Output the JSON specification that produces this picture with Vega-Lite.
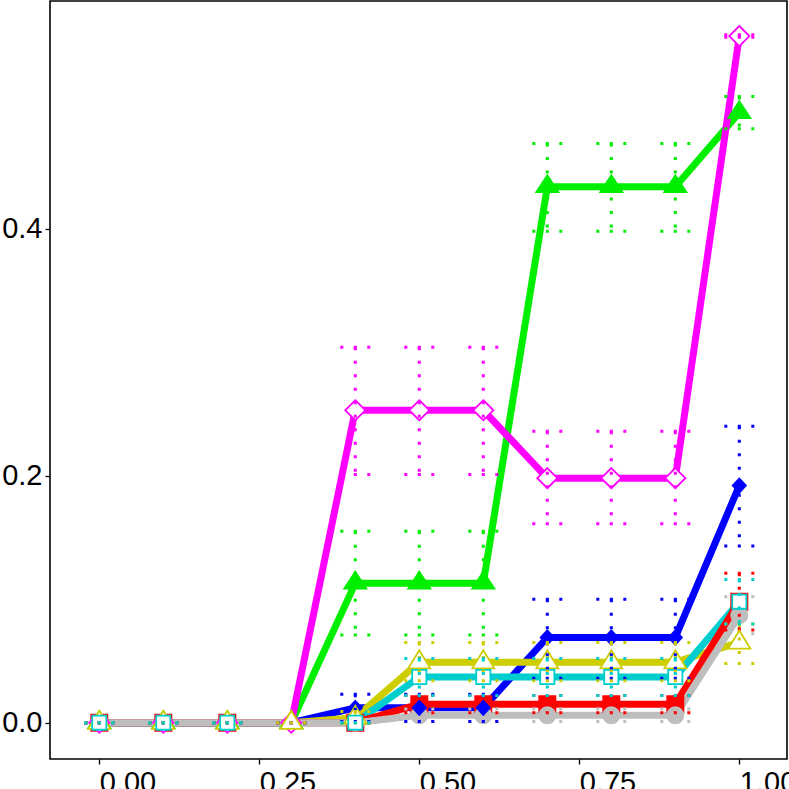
{
  "$schema": "https://vega.github.io/schema/vega-lite/v6.json",
  "width": 737,
  "height": 758,
  "autosize": "none",
  "padding": {"left": 50, "top": 1, "right": 2, "bottom": 30},
  "config": {
    "view": {"stroke": "black", "strokeWidth": 1.6},
    "axis": {
      "grid": false,
      "domain": false,
      "labelFont": "Liberation Sans",
      "labelFontSize": 29,
      "labelColor": "black",
      "tickColor": "black",
      "tickSize": 5,
      "tickWidth": 1.3,
      "labelFlush": false,
      "labelOverlap": false,
      "labelBound": false
    }
  },
  "data": {
    "values": [
      {"series": "blue", "x": 0.0, "y": 0, "lo": 0, "hi": 0},
      {"series": "blue", "x": 0.1, "y": 0, "lo": 0, "hi": 0},
      {"series": "blue", "x": 0.2, "y": 0, "lo": 0, "hi": 0},
      {"series": "blue", "x": 0.3, "y": 0, "lo": 0, "hi": 0},
      {"series": "blue", "x": 0.4, "y": 0.012, "lo": 0.001, "hi": 0.023},
      {"series": "blue", "x": 0.5, "y": 0.012, "lo": 0.001, "hi": 0.023},
      {"series": "blue", "x": 0.6, "y": 0.012, "lo": 0.001, "hi": 0.023},
      {"series": "blue", "x": 0.7, "y": 0.069, "lo": 0.036, "hi": 0.1},
      {"series": "blue", "x": 0.8, "y": 0.069, "lo": 0.036, "hi": 0.1},
      {"series": "blue", "x": 0.9, "y": 0.069, "lo": 0.036, "hi": 0.1},
      {"series": "blue", "x": 1.0, "y": 0.192, "lo": 0.143, "hi": 0.24},

      {"series": "green", "x": 0.0, "y": 0, "lo": 0, "hi": 0},
      {"series": "green", "x": 0.1, "y": 0, "lo": 0, "hi": 0},
      {"series": "green", "x": 0.2, "y": 0, "lo": 0, "hi": 0},
      {"series": "green", "x": 0.3, "y": 0, "lo": 0, "hi": 0},
      {"series": "green", "x": 0.4, "y": 0.113, "lo": 0.071, "hi": 0.155},
      {"series": "green", "x": 0.5, "y": 0.113, "lo": 0.071, "hi": 0.155},
      {"series": "green", "x": 0.6, "y": 0.113, "lo": 0.071, "hi": 0.155},
      {"series": "green", "x": 0.7, "y": 0.434, "lo": 0.398, "hi": 0.469},
      {"series": "green", "x": 0.8, "y": 0.434, "lo": 0.398, "hi": 0.469},
      {"series": "green", "x": 0.9, "y": 0.434, "lo": 0.398, "hi": 0.469},
      {"series": "green", "x": 1.0, "y": 0.494, "lo": 0.481, "hi": 0.507},

      {"series": "magenta", "x": 0.0, "y": 0, "lo": 0, "hi": 0},
      {"series": "magenta", "x": 0.1, "y": 0, "lo": 0, "hi": 0},
      {"series": "magenta", "x": 0.2, "y": 0, "lo": 0, "hi": 0},
      {"series": "magenta", "x": 0.3, "y": 0, "lo": 0, "hi": 0},
      {"series": "magenta", "x": 0.4, "y": 0.253, "lo": 0.201, "hi": 0.304},
      {"series": "magenta", "x": 0.5, "y": 0.253, "lo": 0.201, "hi": 0.304},
      {"series": "magenta", "x": 0.6, "y": 0.253, "lo": 0.201, "hi": 0.304},
      {"series": "magenta", "x": 0.7, "y": 0.198, "lo": 0.161, "hi": 0.236},
      {"series": "magenta", "x": 0.8, "y": 0.198, "lo": 0.161, "hi": 0.236},
      {"series": "magenta", "x": 0.9, "y": 0.198, "lo": 0.161, "hi": 0.236},
      {"series": "magenta", "x": 1.0, "y": 0.556, "lo": 0.555, "hi": 0.557},

      {"series": "yellow", "x": 0.0, "y": 0, "lo": 0, "hi": 0},
      {"series": "yellow", "x": 0.1, "y": 0, "lo": 0, "hi": 0},
      {"series": "yellow", "x": 0.2, "y": 0, "lo": 0, "hi": 0},
      {"series": "yellow", "x": 0.3, "y": 0, "lo": 0, "hi": 0},
      {"series": "yellow", "x": 0.4, "y": 0.004, "lo": 0, "hi": 0.009},
      {"series": "yellow", "x": 0.5, "y": 0.049, "lo": 0.034, "hi": 0.065},
      {"series": "yellow", "x": 0.6, "y": 0.049, "lo": 0.034, "hi": 0.065},
      {"series": "yellow", "x": 0.7, "y": 0.049, "lo": 0.034, "hi": 0.065},
      {"series": "yellow", "x": 0.8, "y": 0.049, "lo": 0.034, "hi": 0.065},
      {"series": "yellow", "x": 0.9, "y": 0.049, "lo": 0.034, "hi": 0.065},
      {"series": "yellow", "x": 1.0, "y": 0.065, "lo": 0.048, "hi": 0.08},

      {"series": "cyan", "x": 0.0, "y": 0, "lo": 0, "hi": 0},
      {"series": "cyan", "x": 0.1, "y": 0, "lo": 0, "hi": 0},
      {"series": "cyan", "x": 0.2, "y": 0, "lo": 0, "hi": 0},
      {"series": "cyan", "x": 0.4, "y": 0, "lo": 0, "hi": 0},
      {"series": "cyan", "x": 0.5, "y": 0.037, "lo": 0.022, "hi": 0.052},
      {"series": "cyan", "x": 0.6, "y": 0.037, "lo": 0.022, "hi": 0.052},
      {"series": "cyan", "x": 0.7, "y": 0.037, "lo": 0.022, "hi": 0.052},
      {"series": "cyan", "x": 0.8, "y": 0.037, "lo": 0.022, "hi": 0.052},
      {"series": "cyan", "x": 0.9, "y": 0.037, "lo": 0.022, "hi": 0.052},
      {"series": "cyan", "x": 1.0, "y": 0.098, "lo": 0.08, "hi": 0.116},

      {"series": "red", "x": 0.0, "y": 0, "lo": 0, "hi": 0},
      {"series": "red", "x": 0.1, "y": 0, "lo": 0, "hi": 0},
      {"series": "red", "x": 0.2, "y": 0, "lo": 0, "hi": 0},
      {"series": "red", "x": 0.4, "y": 0, "lo": 0, "hi": 0},
      {"series": "red", "x": 0.5, "y": 0.015, "lo": 0.008, "hi": 0.022},
      {"series": "red", "x": 0.6, "y": 0.015, "lo": 0.008, "hi": 0.022},
      {"series": "red", "x": 0.7, "y": 0.015, "lo": 0.008, "hi": 0.022},
      {"series": "red", "x": 0.8, "y": 0.015, "lo": 0.008, "hi": 0.022},
      {"series": "red", "x": 0.9, "y": 0.015, "lo": 0.008, "hi": 0.022},
      {"series": "red", "x": 1.0, "y": 0.098, "lo": 0.075, "hi": 0.121},

      {"series": "gray", "x": 0.0, "y": 0, "lo": 0, "hi": 0},
      {"series": "gray", "x": 0.1, "y": 0, "lo": 0, "hi": 0},
      {"series": "gray", "x": 0.2, "y": 0, "lo": 0, "hi": 0},
      {"series": "gray", "x": 0.4, "y": 0, "lo": 0, "hi": 0},
      {"series": "gray", "x": 0.5, "y": 0.006, "lo": 0.001, "hi": 0.011},
      {"series": "gray", "x": 0.6, "y": 0.006, "lo": 0.001, "hi": 0.011},
      {"series": "gray", "x": 0.7, "y": 0.006, "lo": 0.001, "hi": 0.011},
      {"series": "gray", "x": 0.8, "y": 0.006, "lo": 0.001, "hi": 0.011},
      {"series": "gray", "x": 0.9, "y": 0.006, "lo": 0.001, "hi": 0.011},
      {"series": "gray", "x": 1.0, "y": 0.087, "lo": 0.072, "hi": 0.102}
    ]
  },
  "encoding": {
    "x": {
      "field": "x",
      "type": "quantitative",
      "title": null,
      "scale": {"domain": [-0.077, 1.0745], "nice": false, "zero": false},
      "axis": {"values": [0, 0.25, 0.5, 0.75, 1], "format": ".2f", "labelAlign": "left", "labelPadding": 4}
    },
    "y": {
      "field": "y",
      "type": "quantitative",
      "title": null,
      "scale": {"domain": [-0.0294, 0.5844], "nice": false, "zero": false},
      "axis": {"values": [0, 0.2, 0.4], "format": ".1f", "labelPadding": 3}
    },
    "stroke": {
      "field": "series",
      "type": "nominal",
      "legend": null,
      "scale": {
        "domain": ["blue", "green", "magenta", "yellow", "cyan", "red", "gray"],
        "range": ["#0000FF", "#00EE00", "#FF00FF", "#CDCD00", "#00CDCD", "#FF0000", "#BEBEBE"]
      }
    }
  },
  "layer": [
    {
      "mark": {"type": "line", "strokeWidth": 7, "strokeJoin": "round", "strokeCap": "butt"}
    },
    {
      "transform": [{"filter": {"field": "series", "oneOf": ["red", "gray"]}}],
      "layer": [
        {
          "mark": {"type": "point", "size": 576, "strokeWidth": 1.8, "opacity": 1},
          "encoding": {
            "fill": {
              "field": "series",
              "type": "nominal",
              "legend": null,
              "scale": {
                "domain": ["blue", "green", "magenta", "yellow", "cyan", "red", "gray"],
                "range": ["#0000FF", "#00EE00", "white", "white", "white", "#FF0000", "#BEBEBE"]
              }
            },
            "shape": {
              "field": "series",
              "type": "nominal",
              "legend": null,
              "scale": {
                "domain": ["blue", "green", "magenta", "yellow", "cyan", "red", "gray"],
                "range": [
                  "M0,-0.59L0.55,0L0,0.59L-0.55,0Z",
                  "M0,-0.95L0.92,0.45L-0.92,0.45Z",
                  "M0,-0.84L0.84,0L0,0.84L-0.84,0Z",
                  "M0,-1L0.92,0.51L-0.92,0.51Z",
                  "M-0.59,-0.59H0.59V0.59H-0.59Z",
                  "M-0.675,-0.675H0.675V0.675H-0.675Z",
                  "M-0.675,0A0.675,0.675,0,1,0,0.675,0A0.675,0.675,0,1,0,-0.675,0Z"
                ]
              }
            }
          }
        },
        {
          "mark": {"type": "rule", "strokeWidth": 3, "strokeDash": [3, 10.5]},
          "encoding": {
            "y": {"field": "hi", "type": "quantitative", "title": null},
            "y2": {"field": "lo"}
          }
        },
        {
          "mark": {"type": "rule", "strokeWidth": 3, "strokeDash": [3, 10.5], "xOffset": -15, "x2Offset": 15},
          "encoding": {
            "x2": {"field": "x"},
            "y": {"field": "hi", "type": "quantitative", "title": null}
          }
        },
        {
          "mark": {"type": "rule", "strokeWidth": 3, "strokeDash": [3, 10.5], "xOffset": -15, "x2Offset": 15},
          "encoding": {
            "x2": {"field": "x"},
            "y": {"field": "lo", "type": "quantitative", "title": null}
          }
        }
      ]
    },
    {
      "transform": [{"filter": {"field": "series", "oneOf": ["blue", "green", "magenta", "yellow", "cyan"]}}],
      "layer": [
        {
          "mark": {"type": "point", "size": 576, "strokeWidth": 1.8, "opacity": 1},
          "encoding": {
            "fill": {
              "field": "series",
              "type": "nominal",
              "legend": null,
              "scale": {
                "domain": ["blue", "green", "magenta", "yellow", "cyan", "red", "gray"],
                "range": ["#0000FF", "#00EE00", "white", "white", "white", "#FF0000", "#BEBEBE"]
              }
            },
            "shape": {
              "field": "series",
              "type": "nominal",
              "legend": null,
              "scale": {
                "domain": ["blue", "green", "magenta", "yellow", "cyan", "red", "gray"],
                "range": [
                  "M0,-0.59L0.55,0L0,0.59L-0.55,0Z",
                  "M0,-0.95L0.92,0.45L-0.92,0.45Z",
                  "M0,-0.84L0.84,0L0,0.84L-0.84,0Z",
                  "M0,-1L0.92,0.51L-0.92,0.51Z",
                  "M-0.59,-0.59H0.59V0.59H-0.59Z",
                  "M-0.675,-0.675H0.675V0.675H-0.675Z",
                  "M-0.675,0A0.675,0.675,0,1,0,0.675,0A0.675,0.675,0,1,0,-0.675,0Z"
                ]
              }
            }
          }
        },
        {
          "mark": {"type": "rule", "strokeWidth": 3, "strokeDash": [3, 10.5]},
          "encoding": {
            "y": {"field": "hi", "type": "quantitative", "title": null},
            "y2": {"field": "lo"}
          }
        },
        {
          "mark": {"type": "rule", "strokeWidth": 3, "strokeDash": [3, 10.5], "xOffset": -15, "x2Offset": 15},
          "encoding": {
            "x2": {"field": "x"},
            "y": {"field": "hi", "type": "quantitative", "title": null}
          }
        },
        {
          "mark": {"type": "rule", "strokeWidth": 3, "strokeDash": [3, 10.5], "xOffset": -15, "x2Offset": 15},
          "encoding": {
            "x2": {"field": "x"},
            "y": {"field": "lo", "type": "quantitative", "title": null}
          }
        }
      ]
    }
  ]
}
